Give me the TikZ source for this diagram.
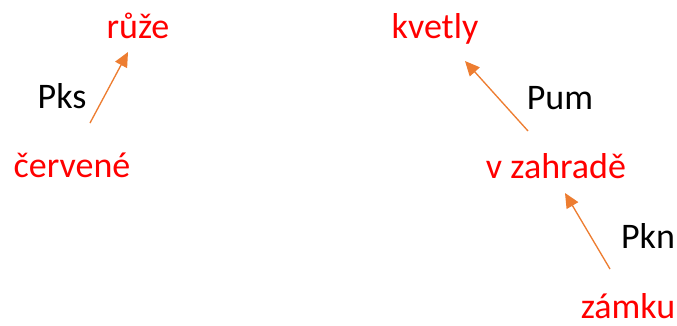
\documentclass[tikz,border=0pt]{standalone}
\usepackage{fontspec}
\setmainfont{Carlito}
\usetikzlibrary{arrows.meta}
\definecolor{deporange}{HTML}{ED7D31}

\begin{document}
\begin{tikzpicture}[x=0.75pt,y=-0.75pt,
  word/.style={text=red,anchor=base,inner sep=0pt,font=\fontsize{27}{32}\selectfont},
  rel/.style={text=black,anchor=base,inner sep=0pt,font=\fontsize{27}{32}\selectfont},
  dep/.style={draw=deporange,line width=1pt,-{Triangle[length=11pt,width=10pt]}}]
\useasboundingbox (0,0) rectangle (677,325);
% words
\node [word] (ruze) at (138,38) {růže};
\node [word] (cervene) at (72,177) {červené};
\node [word] (kvetly) at (435,38) {kvetly};
\node [word] (zahrade) at (556,178) {v zahradě};
\node [word] (zamku) at (628,318) {zámku};
% relations
\node [rel] (pks) at (62,108) {Pks};
\node [rel] (pum) at (560,109) {Pum};
\node [rel] (pkn) at (648,248) {Pkn};
% arrows
\coordinate (cerveneT) at (90,123);
\coordinate (ruzeH) at (128,52);
\coordinate (zahradeT) at (528,131);
\coordinate (kvetlyH) at (465,61);
\coordinate (zamkuT) at (610,269);
\coordinate (zahradeH) at (565,193);
\draw [dep] (cerveneT) -- (ruzeH);
\draw [dep] (zahradeT) -- (kvetlyH);
\draw [dep] (zamkuT) -- (zahradeH);
\end{tikzpicture}
\end{document}
